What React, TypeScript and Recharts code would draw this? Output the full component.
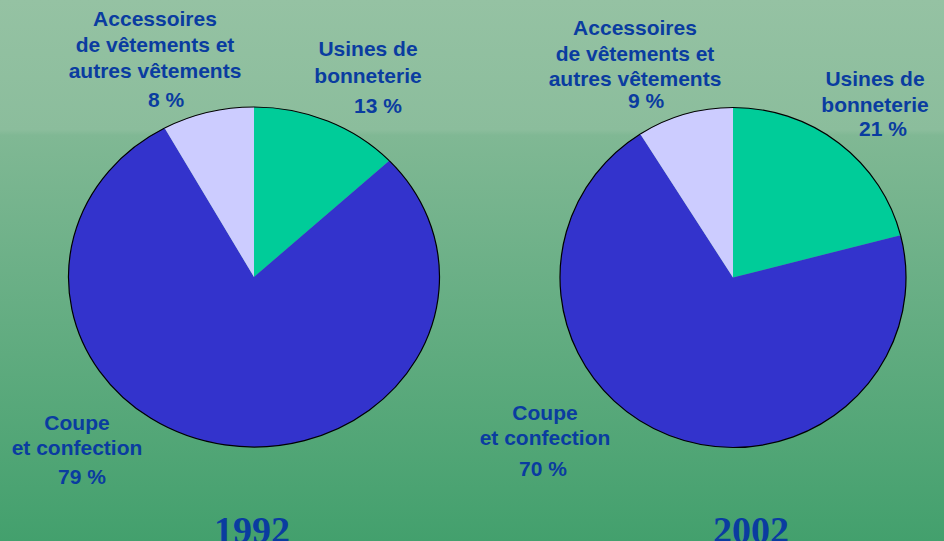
import React from "react";
import { PieChart, Pie, Cell } from "recharts";

const years = ["1992", "2002"];
const categories = [
  "Usines de\nbonneterie",
  "Coupe\net confection",
  "Accessoires\nde vêtements et\nautres vêtements",
];
const values1992 = [13, 79, 8];
const values2002 = [21, 70, 9];
const colors = ["#00cc99", "#3333cc", "#ccccff"];

const TEXT = "#0a3ca0";
const RAD = Math.PI / 180;

const toRows = (vals: number[]) =>
  categories.map((name, i) => ({ name, value: vals[i] }));

// where each label sits (name lines + value line), per pie
const labelPos = [
  [
    { x: 368, y: 48, gap: 27, vx: 378, vy: 105 },
    { x: 77, y: 422, gap: 25, vx: 82, vy: 476 },
    { x: 155, y: 18, gap: 26, vx: 166, vy: 99 },
  ],
  [
    { x: 875, y: 78, gap: 26, vx: 883, vy: 128 },
    { x: 545, y: 412, gap: 25, vx: 543, vy: 468 },
    { x: 635, y: 27, gap: 25.5, vx: 646, vy: 100 },
  ],
];

function EllipseSector(props: any) {
  const { cx, cy, outerRadius, startAngle, endAngle, fill, ratio } = props;
  const rx = outerRadius;
  const ry = outerRadius * ratio;
  const pt = (a: number) => [
    cx + rx * Math.cos(-a * RAD),
    cy + ry * Math.sin(-a * RAD),
  ];
  const [x1, y1] = pt(startAngle);
  const [x2, y2] = pt(endAngle);
  const large = Math.abs(startAngle - endAngle) > 180 ? 1 : 0;
  const sweep = startAngle > endAngle ? 1 : 0;
  const arc = `A${rx},${ry} 0 ${large} ${sweep} ${x2},${y2}`;
  return (
    <g>
      <path d={`M${cx},${cy} L${x1},${y1} ${arc} Z`} fill={fill} />
      <path d={`M${x1},${y1} ${arc}`} fill="none" stroke="#000" strokeWidth={1.2} />
    </g>
  );
}

const makeLabel = (pieIdx: number) => (props: any) => {
  const p = labelPos[pieIdx][props.index];
  const lines = String(props.name).split("\n");
  return (
    <text
      fill={TEXT}
      fontFamily="Arial, 'Liberation Sans', sans-serif"
      fontWeight="bold"
      fontSize={21}
      textAnchor="middle"
      dominantBaseline="central"
    >
      {lines.map((l, i) => (
        <tspan key={i} x={p.x} y={p.y + i * p.gap}>
          {l}
        </tspan>
      ))}
      <tspan x={p.vx} y={p.vy}>
        {props.value} %
      </tspan>
    </text>
  );
};

export default function App() {
  const pies = [
    { data: toRows(values1992), cx: 254, cy: 277, r: 185.5, ratio: 170 / 185.5 },
    { data: toRows(values2002), cx: 733, cy: 277.5, r: 173, ratio: 170 / 173 },
  ];
  return (
    <div
      style={{
        position: "absolute",
        top: 0,
        left: 0,
        width: 944,
        height: 541,
        overflow: "hidden",
        background: "linear-gradient(to bottom, #95c2a3 0%, #8bbd9c 24%, #80b894 25%, #43a06d 100%)",
      }}
    >
      <PieChart width={944} height={541} margin={{ top: 0, right: 0, bottom: 0, left: 0 }}>
        {pies.map((pie, k) => (
          <Pie
            key={k}
            data={pie.data}
            dataKey="value"
            nameKey="name"
            cx={pie.cx}
            cy={pie.cy}
            outerRadius={pie.r}
            startAngle={90}
            endAngle={-270}
            isAnimationActive={false}
            labelLine={false}
            label={makeLabel(k)}
            shape={(p: any) => <EllipseSector {...p} ratio={pie.ratio} />}
          >
            {pie.data.map((_, i) => (
              <Cell key={i} fill={colors[i]} />
            ))}
          </Pie>
        ))}
      </PieChart>
      <svg
        width={944}
        height={541}
        style={{ position: "absolute", top: 0, left: 0, pointerEvents: "none" }}
      >
        {years.map((y, i) => (
          <text
            key={y}
            x={i === 0 ? 252 : 751}
            y={543}
            fill={TEXT}
            fontFamily="'Times New Roman', 'Liberation Serif', serif"
            fontWeight="bold"
            fontSize={38}
            textAnchor="middle"
          >
            {y}
          </text>
        ))}
      </svg>
    </div>
  );
}
